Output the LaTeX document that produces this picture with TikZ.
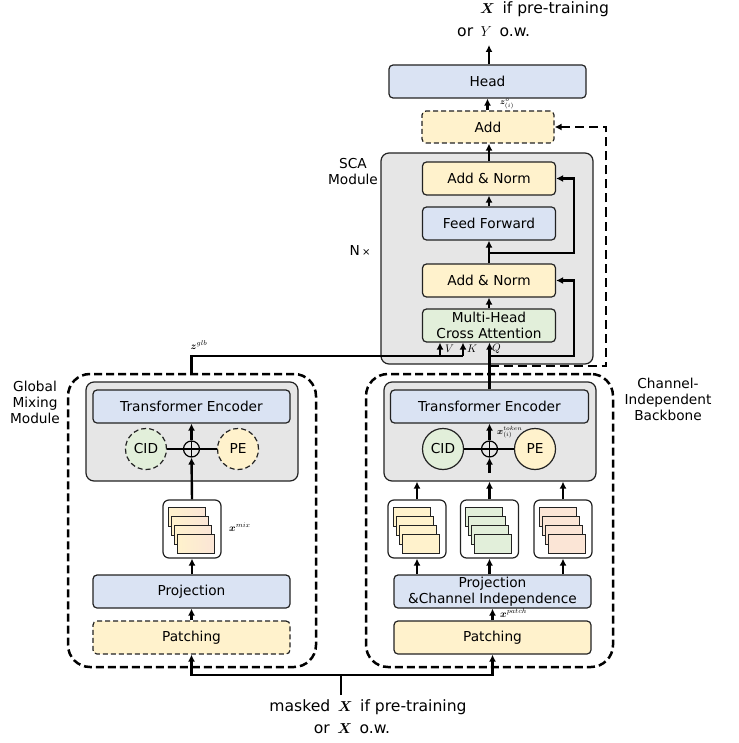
\documentclass[tikz,border=0pt]{standalone}
\usepackage{fontspec}
\setmainfont{DejaVu Sans}
\usepackage{bm}
\usetikzlibrary{arrows.meta,calc}
\definecolor{bluef}{HTML}{DAE3F3}
\definecolor{yellf}{HTML}{FFF2CC}
\definecolor{greenf}{HTML}{E2EFDA}
\definecolor{pinkf}{HTML}{FBE5D6}
\definecolor{grayf}{HTML}{E6E6E6}
\definecolor{edge}{HTML}{222222}
\newcommand\bodyfont{\fontsize{13.7}{16}\selectfont}
\newcommand\bigfont{\fontsize{15.6}{18}\selectfont}
\newcommand\lblfont{\fontsize{10}{11}\selectfont}
\begin{document}
\begin{tikzpicture}[x=1pt,y=-1pt,
  box/.style={draw=edge, line width=1.2pt, rounded corners=4pt, minimum height=33pt, inner sep=0pt, font=\bodyfont, align=center},
  bbox/.style={box, fill=bluef},
  ybox/.style={box, fill=yellf},
  gbox/.style={box, fill=greenf},
  dashbox/.style={dash pattern=on 5pt off 3pt},
  graybox/.style={draw=edge, line width=1.2pt, fill=grayf, rounded corners=8pt, inner sep=0pt},
  module/.style={draw=black, line width=2.5pt, dash pattern=on 8pt off 4pt, rounded corners=22pt, inner sep=0pt},
  circ/.style={circle, draw=edge, line width=1.2pt, minimum size=41pt, inner sep=0pt, font=\bodyfont},
  oplus/.style={circle, draw=black, line width=1.2pt, minimum size=16pt, inner sep=0pt,
     path picture={\draw[line width=1.2pt] (path picture bounding box.north) -- (path picture bounding box.south)
       (path picture bounding box.west) -- (path picture bounding box.east);}},
  stackbox/.style={draw=edge, line width=1.2pt, fill=white, rounded corners=6pt, minimum width=58pt, minimum height=58pt, inner sep=0pt},
  srect/.style={draw=edge, line width=1pt},
  line/.style={line width=2.4pt, draw=black},
  arr/.style={line, -{Latex[length=7pt,width=7pt]}},
  feedback/.style={line width=2.4pt, dash pattern=on 9pt off 5pt, -{Latex[length=7pt,width=7pt]}},
  lbl/.style={font=\lblfont, inner sep=1pt},
  txt/.style={font=\bodyfont, align=center, inner sep=0pt}
]
\useasboundingbox (0,0) rectangle (738,743);

% ---------------- outer modules ----------------
\node[module, minimum width=248pt, minimum height=293pt] (gmm) at (192,520.5) {};
\node[module, minimum width=247pt, minimum height=293pt] (cib) at (489.5,520.5) {};
\node[txt] (gmmlbl) at (35,402) {Global\\Mixing\\Module};
\node[txt] (ciblbl) at (668,399) {Channel-\\Independent\\Backbone};

% ---------------- SCA module ----------------
\node[graybox, minimum width=212pt, minimum height=211pt] (sca) at (487,258.5) {};
\node[txt] (scalbl) at (353,172) {SCA\\Module};
\node[txt] (nx) at (360,251) {N\,{\fontsize{10}{10}\selectfont ×}};
\node[ybox, minimum width=133pt] (an1) at (489,178.5) {Add \& Norm};
\node[bbox, minimum width=133pt] (ff) at (489,223.5) {Feed Forward};
\node[ybox, minimum width=133pt] (an2) at (489,280.5) {Add \& Norm};
\node[gbox, minimum width=133pt, font=\fontsize{13.7}{16.5}\selectfont] (mhca) at (489,325.5) {Multi-Head\\Cross Attention};

% ---------------- top ----------------
\node[ybox, dashbox, minimum width=132pt, minimum height=32pt] (add) at (488,127) {Add};
\node[bbox, minimum width=197pt] (head) at (487.5,81.5) {Head};
\coordinate (out) at (489,45);
\node[font=\bigfont, anchor=west, inner sep=0pt] (o1) at (480,9) {$\bm{X}$\, if pre-training};
\node[font=\bigfont, anchor=west, inner sep=0pt] (o2) at (457,32) {or\, $Y$\, o.w.};

% ---------------- left module content ----------------
\node[graybox, minimum width=212pt, minimum height=99pt] (grayL) at (192,431.5) {};
\node[bbox, minimum width=197pt] (teL) at (191.5,406.5) {Transformer Encoder};
\node[circ, dashbox, fill=greenf] (cidL) at (146,449) {CID};
\node[oplus] (plusL) at (191.5,449) {};
\node[circ, dashbox, fill=yellf] (peL) at (238,449) {PE};
\node[stackbox] (stackL) at (192,529) {};
\foreach \i in {0,...,3}
  \draw[srect, left color=yellf, middle color=greenf!90!green!40!white, right color=pinkf]
    ($(stackL.center)+(-24+3*\i,-22+9*\i)$) rectangle ++(37,19);
\node[lbl, anchor=west] (xmix) at (228,527) {$\bm{x}^{mix}$};
\node[bbox, minimum width=197pt] (projL) at (191.5,591.5) {Projection};
\node[ybox, dashbox, minimum width=197pt] (patchL) at (191.5,637.5) {Patching};

% ---------------- right module content ----------------
\node[graybox, minimum width=212pt, minimum height=99pt] (grayR) at (490,431.5) {};
\node[bbox, minimum width=198pt] (teR) at (489.5,406.5) {Transformer Encoder};
\node[lbl, anchor=west, font=\fontsize{9}{10}\selectfont] (xtok) at (496,432) {$\bm{x}^{token}_{(i)}$};
\node[circ, fill=greenf] (cidR) at (443,449) {CID};
\node[oplus] (plusR) at (489.5,449) {};
\node[circ, fill=yellf] (peR) at (535,449) {PE};
\node[stackbox] (sR1) at (417,529) {};
\node[stackbox] (sR2) at (489.5,529) {};
\node[stackbox] (sR3) at (563,529) {};
\foreach \s/\c in {sR1/yellf, sR2/greenf, sR3/pinkf}
  \foreach \i in {0,...,3}
    \draw[srect, fill=\c] ($(\s.center)+(-24+3*\i,-22+9*\i)$) rectangle ++(37,19);
\node[bbox, minimum width=197pt, font=\fontsize{13.7}{16.5}\selectfont] (projR) at (492.5,591.5) {Projection\\\&Channel Independence};
\node[ybox, minimum width=197pt] (patchR) at (492.5,637.5) {Patching};
\node[lbl, anchor=west] (xpatch) at (499,613) {$\bm{x}^{patch}$};

% ---------------- input ----------------
\node[font=\bigfont, inner sep=0pt] (in1) at (368,707) {masked\, $\bm{X}$\, if pre-training};
\node[font=\bigfont, inner sep=0pt] (in2) at (352,729) {or\, $\bm{X}$\, o.w.};
\coordinate (inp) at (341,695);
\coordinate (junc) at (341,675);
\draw[line] (inp) -- (junc);
\draw[arr] (junc) -| (patchL.south);
\draw[arr] (junc) -| (patchR.south);

% ---------------- left connectors ----------------
\draw[arr] (patchL) -- (projL);
\draw[arr] (projL.north -| stackL) -- (stackL.south);
\draw[arr] (stackL.north) -- (plusL.south);
\draw[line] (cidL) -- (plusL) -- (peL);
\draw[arr] (plusL.north) -- (plusL.north |- teL.south);

% ---------------- right connectors ----------------
\draw[arr] (patchR.north) -- (projR.south);
\foreach \s in {sR1,sR2,sR3} \draw[arr] (\s.south |- projR.north) -- (\s.south);
\foreach \s in {sR1,sR2,sR3} \draw[arr] (\s.north) -- (\s.north |- grayR.south);
\coordinate (pin) at (489.5,473);
\draw[arr] (pin) -- (plusR.south);
\draw[line] (cidR) -- (plusR) -- (peR);
\draw[arr] (plusR.north) -- (plusR.north |- teR.south);

% ---------------- to SCA ----------------
\coordinate (vV) at (440,356);
\coordinate (vK) at (463,356);
\draw[line] (gmm.north -| teL) |- (vK);
\draw[arr] (vV) -- (vV |- mhca.south);
\draw[arr] (vK) -- (vK |- mhca.south);
\draw[arr] (teR.north) -- (teR.north |- mhca.south);
\node[lbl, anchor=west, font=\fontsize{11}{12}\selectfont] (lv) at (444,349) {$V$};
\node[lbl, anchor=west, font=\fontsize{11}{12}\selectfont] (lk) at (466,349) {$K$};
\node[lbl, anchor=west, font=\fontsize{11}{12}\selectfont] (lq) at (491,349) {$Q$};
\node[lbl] (zglb) at (199,345) {$\bm{z}^{glb}$};

\coordinate (qb) at (489.5,356);
\coordinate (r2) at (574,280.5);
\draw[arr] (qb) -| (r2) -- (an2.east);
\coordinate (r1b) at (489,253);
\coordinate (r1) at (574,178.5);
\draw[arr] (r1b) -| (r1) -- (an1.east);

\draw[arr] (mhca) -- (an2);
\draw[arr] (an2) -- (ff);
\draw[arr] (ff) -- (an1);
\draw[arr] (an1.north) -- (an1.north |- add.south);
\draw[arr] (add.north -| head) -- (head.south);
\node[lbl, anchor=west, font=\fontsize{8}{9}\selectfont] (zo) at (499,104) {$\bm{z}^{o}_{(i)}$};
\draw[arr] (head.north -| out) -- (out);

% ---------------- feedback ----------------
\coordinate (fb0) at (489.5,366);
\coordinate (fb1) at (606,366);
\coordinate (fb2) at (606,127);
\draw[feedback] (fb0) -- (fb1) -- (fb2) -- (add.east);
\end{tikzpicture}
\end{document}
